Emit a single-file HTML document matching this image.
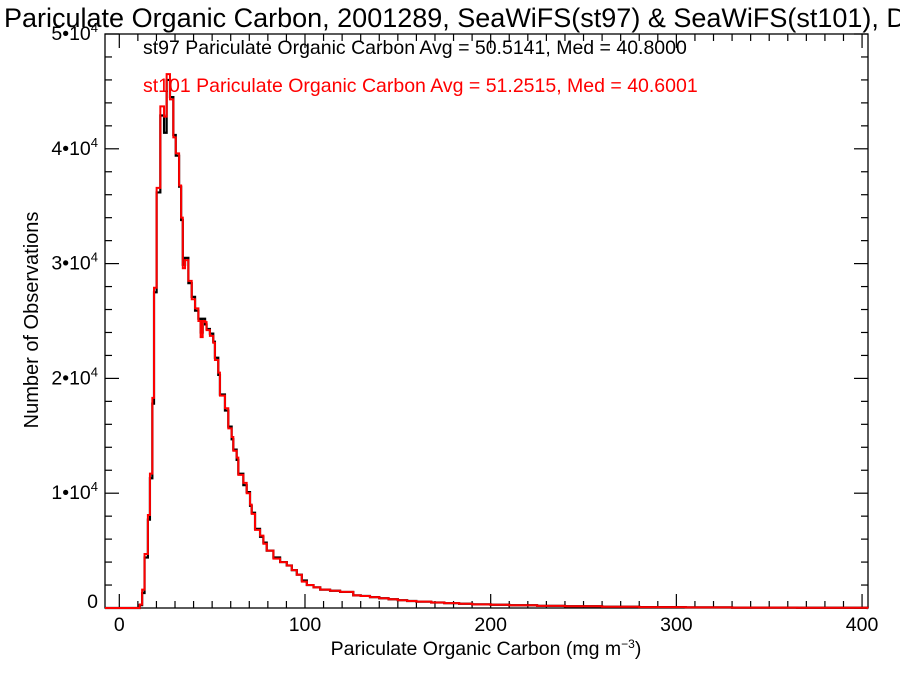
<!DOCTYPE html>
<html><head><meta charset="utf-8"><style>
body{margin:0;background:#fff;}
svg{display:block;font-family:"Liberation Sans",Arial,sans-serif;}
</style></head><body>
<svg id="chart" width="900" height="675" viewBox="0 0 900 675" xmlns="http://www.w3.org/2000/svg">
<rect x="0" y="0" width="900" height="675" fill="#fff"/>
<text x="4" y="27" font-size="27" fill="#000">Pariculate Organic Carbon, 2001289, SeaWiFS(st97) &amp; SeaWiFS(st101), Deep-Water</text>
<text x="143" y="54" font-size="19.5" fill="#000">st97 Pariculate Organic Carbon Avg = 50.5141, Med = 40.8000</text>
<text x="143" y="92" font-size="19.5" fill="#ff0000">st101 Pariculate Organic Carbon Avg = 51.2515, Med = 40.6001</text>
<g id="axes"></g>
<g id="series"></g>
<text transform="translate(38,320) rotate(-90)" text-anchor="middle" font-size="20">Number of Observations</text>
<text x="486" y="655" text-anchor="middle" font-size="19.5">Pariculate Organic Carbon (mg m<tspan dy="-7" font-size="12">−3</tspan><tspan dy="7">)</tspan></text>
</svg>
<script>
const binEdges=[11,12.3,13.6,15.4,16.5,17.8,18.7,20.1,22.1,24.1,25.5,27.3,29.1,30.4,32.2,33.3,34.2,35.4,37.2,39.0,40.8,42.6,43.8,44.9,46.2,47.0,48.8,50.6,51.5,53.3,54.2,56.9,58.7,60.5,61.4,63.2,64.1,66.8,68.6,70.4,71.3,73.1,75.8,77.6,79.4,83,86.6,90.2,92.9,95.6,98.3,101,104.6,108.2,113.5,118.9,126,130,135,140,145,150,155,160,168,175,183,190,200,210,225,240,260,280,305,330,365,403];
const st101=[300,1600,4700,8100,11700,18300,27900,36600,43700,42800,46500,44300,41000,39600,36800,34000,29600,30300,28500,26900,26100,25000,23600,25000,24900,24200,23700,23100,21600,20500,18500,17400,15650,14900,13700,13100,11600,10900,10000,9000,8200,6800,6300,5600,5000,4300,4000,3700,3300,2900,2300,2000,1800,1600,1500,1400,1100,1050,950,850,760,680,610,550,480,420,370,320,280,240,190,150,110,80,55,35,20];
const st97=[250,1300,4400,7700,11300,17800,27500,36200,42900,41400,46000,44500,41200,39400,36700,33800,29900,30500,28300,27100,25900,25200,24000,25200,24700,24300,23900,23200,21800,20300,18600,17200,15800,14700,13800,12900,11700,10700,10100,8900,8300,6900,6200,5700,5000,4400,4000,3700,3300,2900,2400,2000,1800,1600,1500,1400,1100,1050,950,850,760,680,610,550,480,420,370,320,280,240,190,150,110,80,55,35,20];
const xTicks=[0,100,200,300,400];
const yTicks=[0,10000,20000,30000,40000,50000];
const NS="http://www.w3.org/2000/svg";
const L=105,R=868,T=34,B=608;
const X0=-7.7,X1=403.2,Y0=0,Y1=50000;
function sx(v){return L+(v-X0)/(X1-X0)*(R-L);}
function sy(v){return B-(v-Y0)/(Y1-Y0)*(B-T);}
const axes=document.getElementById('axes');
function mk(tag,attrs,parent){const e=document.createElementNS(NS,tag);for(const k in attrs)e.setAttribute(k,attrs[k]);parent.appendChild(e);return e;}
const frame=mk('rect',{x:L,y:T,width:R-L,height:B-T,fill:'none',stroke:'#000','stroke-width':1.3},axes);


for(let v=0;v<=400;v+=10){
  const len=(v%100===0)?14:7;const x=sx(v);
  const t1=mk('line',{x1:x,x2:x,y1:B,y2:B-len,stroke:'#000','stroke-width':1.2},axes);
  
  
  const t2=mk('line',{x1:x,x2:x,y1:T,y2:T+len,stroke:'#000','stroke-width':1.2},axes);
  
  
}
for(let v=0;v<=50000;v+=2000){
  const len=(v%10000===0)?14:7;const y=sy(v);
  const t1=mk('line',{x1:L,x2:L+len,y1:y,y2:y,stroke:'#000','stroke-width':1.2},axes);
  
  
  const t2=mk('line',{x1:R,x2:R-len,y1:y,y2:y,stroke:'#000','stroke-width':1.2},axes);
  
  
}
xTicks.forEach(v=>{
  const t=mk('text',{x:sx(v),y:B+23,'text-anchor':'middle','font-size':19.5},axes);
  t.textContent=String(v);
  
  
});
yTicks.forEach(v=>{
  const t=mk('text',{x:L-7,y:sy(v)+(v===0?0:6),'text-anchor':'end','font-size':19.5},axes);
  if(v===0){t.textContent='0';}
  else{
    const m=Math.round(v/10000);
    t.textContent=m+'•10';
    const s=document.createElementNS(NS,'tspan');
    s.setAttribute('dy','-8');s.setAttribute('font-size','13');
    s.textContent='4';t.appendChild(s);
  }
  
  
});
const series=document.getElementById('series');
function stepPath(vals){
  let d='M'+sx(X0)+','+sy(0)+' L'+sx(binEdges[0])+','+sy(0);
  for(let i=0;i<vals.length;i++){
    d+=' L'+sx(binEdges[i])+','+sy(vals[i])+' L'+sx(binEdges[i+1])+','+sy(vals[i]);
  }
  d+=' L'+sx(binEdges[binEdges.length-1])+','+sy(0)+' L'+sx(X1)+','+sy(0);
  return d;
}
const p1=mk('path',{d:stepPath(st97),fill:'none',stroke:'#000','stroke-width':2.2},series);


const p2=mk('path',{d:stepPath(st101),fill:'none',stroke:'#ff0000','stroke-width':2},series);


</script>
</body></html>
